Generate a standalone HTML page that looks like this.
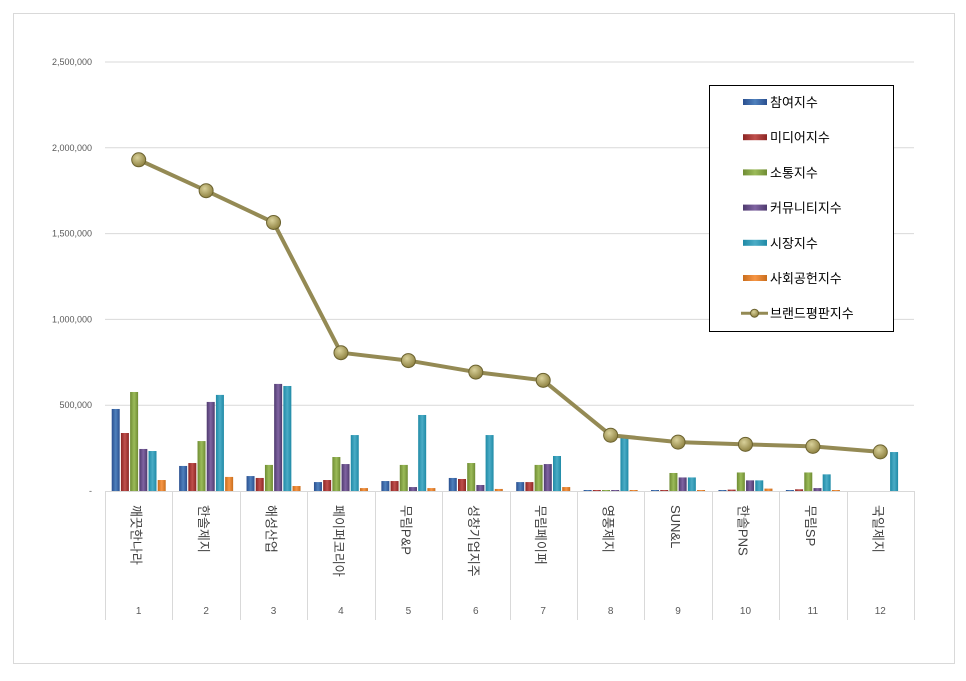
<!DOCTYPE html>
<html><head><meta charset="utf-8"><style>
body{margin:0;background:#fff;font-family:"Liberation Sans","Noto Sans CJK KR",sans-serif;}
svg text{font-family:"Liberation Sans","Noto Sans CJK KR",sans-serif;}
</style></head><body>
<svg id="chart" width="966" height="676" xmlns="http://www.w3.org/2000/svg">
<defs>
<linearGradient id="g0" x1="0" x2="1"><stop offset="0" stop-color="#2a4f8f"/><stop offset=".5" stop-color="#4f81bd"/><stop offset="1" stop-color="#2a4f8f"/></linearGradient>
<linearGradient id="g1" x1="0" x2="1"><stop offset="0" stop-color="#8c2523"/><stop offset=".5" stop-color="#c0504d"/><stop offset="1" stop-color="#8c2523"/></linearGradient>
<linearGradient id="g2" x1="0" x2="1"><stop offset="0" stop-color="#6f8c33"/><stop offset=".5" stop-color="#9bbb59"/><stop offset="1" stop-color="#6f8c33"/></linearGradient>
<linearGradient id="g3" x1="0" x2="1"><stop offset="0" stop-color="#4e3a6e"/><stop offset=".5" stop-color="#8064a2"/><stop offset="1" stop-color="#4e3a6e"/></linearGradient>
<linearGradient id="g4" x1="0" x2="1"><stop offset="0" stop-color="#1f8aa6"/><stop offset=".5" stop-color="#4bacc6"/><stop offset="1" stop-color="#1f8aa6"/></linearGradient>
<linearGradient id="g5" x1="0" x2="1"><stop offset="0" stop-color="#c96d1c"/><stop offset=".5" stop-color="#f79646"/><stop offset="1" stop-color="#c96d1c"/></linearGradient>
<radialGradient id="gm" cx=".4" cy=".35" r=".7"><stop offset="0" stop-color="#d9d19a"/><stop offset="1" stop-color="#8a7d3c"/></radialGradient>
</defs>
<rect x="13.5" y="13.5" width="941" height="650" fill="#fff" stroke="#d9d9d9"/>
<g id="grid"></g><g id="bars"></g><g id="line"></g><g id="axes"></g>
<g>
<rect x="709.5" y="85.5" width="184" height="246" fill="#fff" stroke="#000"/>
<g id="legend"></g>
</g>
</svg>
<script>
const categories=["깨끗한나라","한솔제지","해성산업","페이퍼코리아","무림P&P","성창기업지주","무림페이퍼","영풍제지","SUN&L","한솔PNS","무림SP","국일제지"];
const ranks=["1","2","3","4","5","6","7","8","9","10","11","12"];
const seriesNames=["참여지수","미디어지수","소통지수","커뮤니티지수","시장지수","사회공헌지수"];
const participation=[478000,146000,87000,52000,58000,76000,52000,2000,1000,3000,5000,0];
const media=[338000,163000,76000,64000,58000,70000,52000,2000,5000,8000,10000,0];
const communication=[577000,291000,152000,198000,152000,163000,152000,1000,105000,108000,108000,0];
const community=[245000,519000,624000,157000,23000,35000,157000,5000,79000,62000,17000,0];
const market=[233000,560000,612000,326000,443000,326000,204000,309000,79000,62000,97000,227000];
const social=[64000,82000,29000,17000,17000,12000,23000,1000,4000,14000,3000,0];
const brandIndex=[1930000,1750000,1565000,806000,760000,693000,645000,325000,285000,272000,260000,228000];
const yTicks=[0,500000,1000000,1500000,2000000,2500000];
const yTickLabels=["-","500,000","1,000,000","1,500,000","2,000,000","2,500,000"];
const lineName="브랜드평판지수";

const NS="http://www.w3.org/2000/svg";
const x0=105,x1=914,y0=491,yTop=62,yMax=2500000;
const cw=(x1-x0)/categories.length;
const yScale=v=>y0-(v/yMax)*(y0-yTop);
const xCenter=i=>x0+cw*(i+0.5);
function mk(tag,attrs,parent){const e=document.createElementNS(NS,tag);for(const k in attrs)e.setAttribute(k,attrs[k]);parent.appendChild(e);return e;}
const grid=document.getElementById('grid'),bars=document.getElementById('bars'),line=document.getElementById('line'),axes=document.getElementById('axes'),legend=document.getElementById('legend');

yTicks.forEach((t,i)=>{
  const y=yScale(t);
  if(t>0){const gl=mk('line',{x1:x0,x2:x1,y1:y,y2:y,stroke:'#d9d9d9'},grid);
  
  }
  const tx=mk('text',{x:92,y:y+3,'text-anchor':'end','font-size':'9',fill:'#595959'},axes);
  tx.textContent=yTickLabels[i];
  
  
});
const base=mk('line',{x1:x0,x2:x1,y1:y0+.5,y2:y0+.5,stroke:'#d9d9d9'},axes);


for(let i=0;i<=categories.length;i++){
  const x=Math.round(x0+cw*i)+.5;
  const d=mk('line',{x1:x,x2:x,y1:y0,y2:620,stroke:'#d9d9d9'},axes);
  
  
}
const series=[participation,media,communication,community,market,social];
const bw=8,gap=1;
categories.forEach((c,i)=>{
  const gx=xCenter(i)-27;
  series.forEach((s,k)=>{
    const v=s[i];const y=yScale(v);const h=Math.max(y0-y,v>0?1:0);
    if(h<=0)return;
    const r=mk('rect',{x:gx+k*(bw+gap+0.2),y:y0-h,width:bw,height:h,fill:'url(#g'+k+')'},bars);
    
    
  });
  const lab=mk('text',{x:xCenter(i)-7,y:505,'font-size':'13',fill:'#404040',transform:'rotate(90 '+(xCenter(i)-7)+' 505)'},axes);
  lab.textContent=c;
  
  
  const rk=mk('text',{x:xCenter(i),y:614,'text-anchor':'middle','font-size':'10',fill:'#595959'},axes);
  rk.textContent=ranks[i];
  
  
});
const pts=brandIndex.map((v,i)=>xCenter(i)+','+yScale(v)).join(' ');
const pl=mk('polyline',{points:pts,fill:'none',stroke:'#948a54','stroke-width':'4','stroke-linejoin':'round'},line);


brandIndex.forEach((v,i)=>{
  const c=mk('circle',{cx:xCenter(i),cy:yScale(v),r:7,fill:'url(#gm)',stroke:'#6b622f','stroke-width':'1'},line);
  
  
});
seriesNames.concat([lineName]).forEach((n,k)=>{
  const y=102+k*35.2;
  if(k<6){const s=mk('rect',{x:743,y:y-3,width:24,height:6,fill:'url(#g'+k+')'},legend);
    
    }
  else{mk('line',{x1:741,x2:768,y1:y,y2:y,stroke:'#948a54','stroke-width':'3'},legend);
    const m=mk('circle',{cx:754.5,cy:y,r:4,fill:'url(#gm)',stroke:'#6b622f'},legend);
    
    }
  const t=mk('text',{x:770,y:y+5,'font-size':'13',fill:'#000'},legend);
  t.textContent=n;
  
  
});
</script>
</body></html>
